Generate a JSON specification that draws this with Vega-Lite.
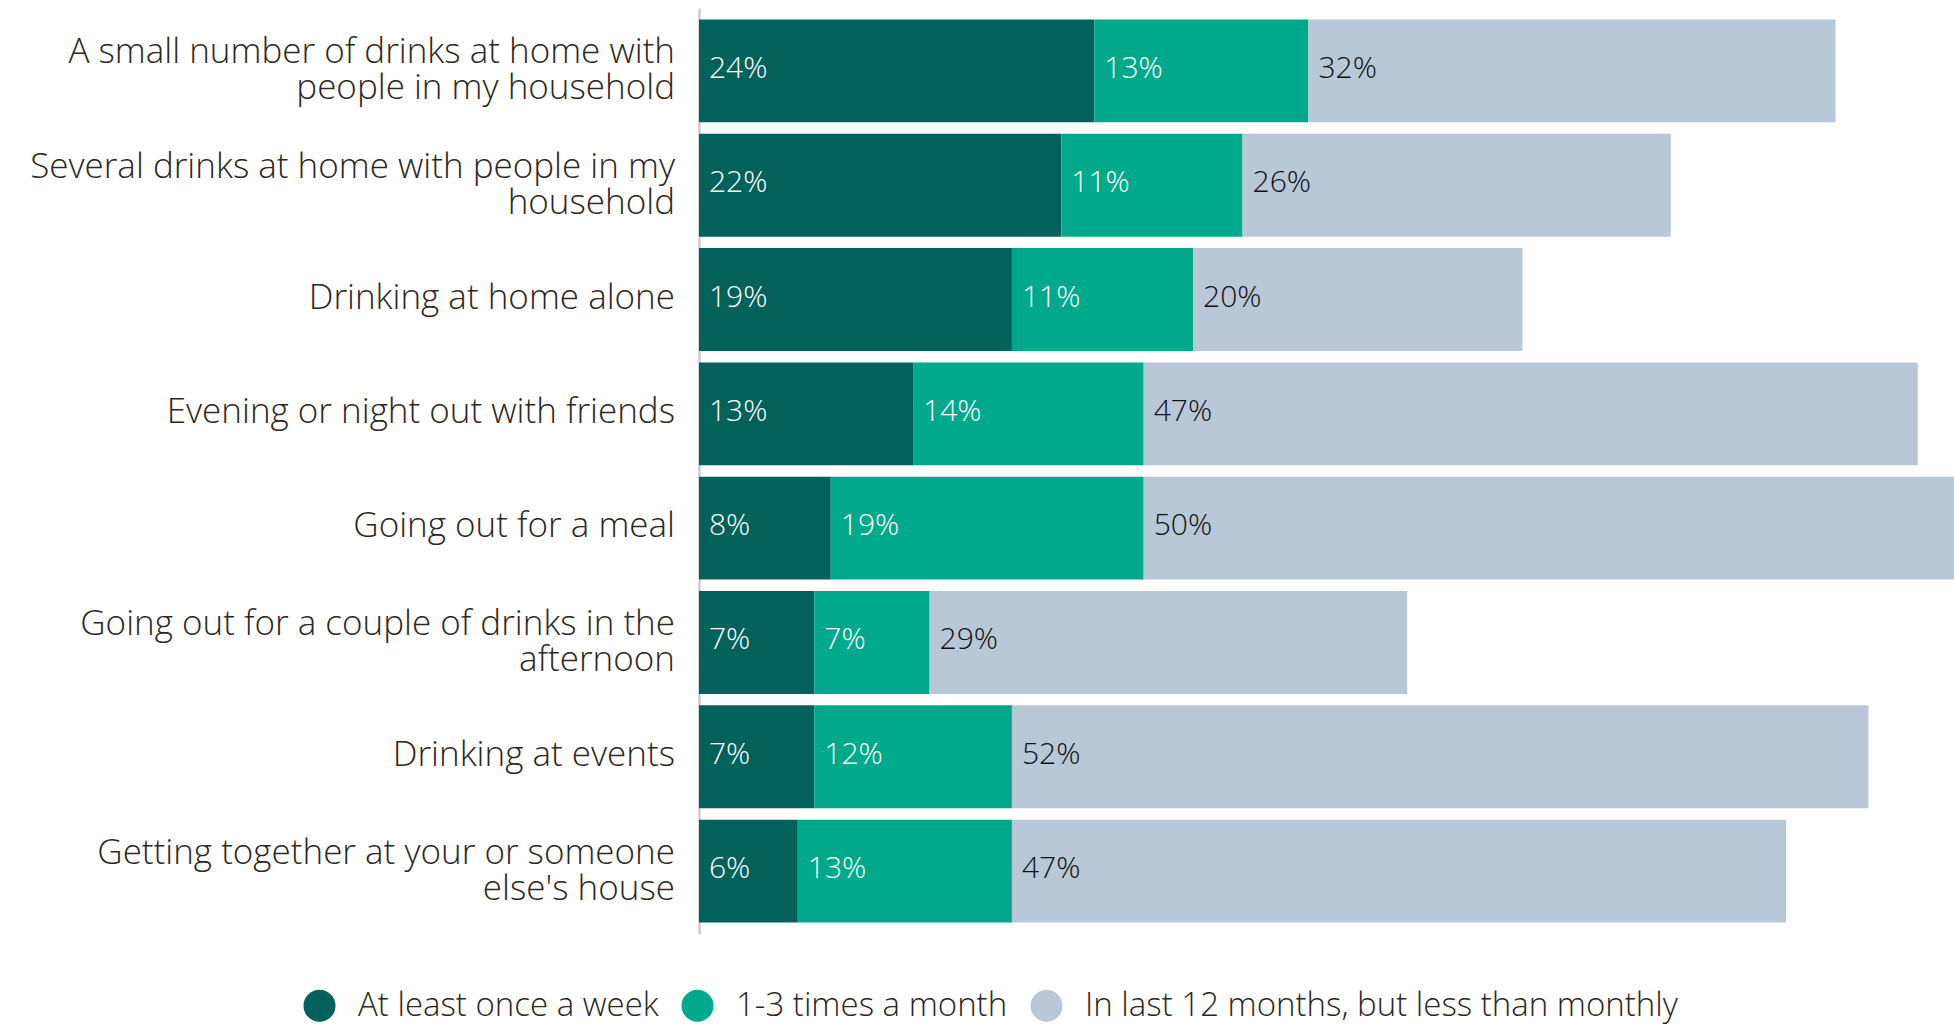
{
  "$schema": "https://vega.github.io/schema/vega-lite/v6.json",
  "autosize": {"type": "none"},
  "padding": {"left": 699, "top": 8, "right": 0, "bottom": 91},
  "width": 1255,
  "height": 926,
  "background": "white",
  "config": {
    "view": {"stroke": null},
    "font": "Open Sans"
  },
  "data": {
    "values": [
      {"activity": "A small number of drinks at home with|people in my household", "freq": "At least once a week", "order": 1, "value": 24},
      {"activity": "A small number of drinks at home with|people in my household", "freq": "1-3 times a month", "order": 2, "value": 13},
      {"activity": "A small number of drinks at home with|people in my household", "freq": "In last 12 months, but less than monthly", "order": 3, "value": 32},
      {"activity": "Several drinks at home with people in my|household", "freq": "At least once a week", "order": 1, "value": 22},
      {"activity": "Several drinks at home with people in my|household", "freq": "1-3 times a month", "order": 2, "value": 11},
      {"activity": "Several drinks at home with people in my|household", "freq": "In last 12 months, but less than monthly", "order": 3, "value": 26},
      {"activity": "Drinking at home alone", "freq": "At least once a week", "order": 1, "value": 19},
      {"activity": "Drinking at home alone", "freq": "1-3 times a month", "order": 2, "value": 11},
      {"activity": "Drinking at home alone", "freq": "In last 12 months, but less than monthly", "order": 3, "value": 20},
      {"activity": "Evening or night out with friends", "freq": "At least once a week", "order": 1, "value": 13},
      {"activity": "Evening or night out with friends", "freq": "1-3 times a month", "order": 2, "value": 14},
      {"activity": "Evening or night out with friends", "freq": "In last 12 months, but less than monthly", "order": 3, "value": 47},
      {"activity": "Going out for a meal", "freq": "At least once a week", "order": 1, "value": 8},
      {"activity": "Going out for a meal", "freq": "1-3 times a month", "order": 2, "value": 19},
      {"activity": "Going out for a meal", "freq": "In last 12 months, but less than monthly", "order": 3, "value": 50},
      {"activity": "Going out for a couple of drinks in the|afternoon", "freq": "At least once a week", "order": 1, "value": 7},
      {"activity": "Going out for a couple of drinks in the|afternoon", "freq": "1-3 times a month", "order": 2, "value": 7},
      {"activity": "Going out for a couple of drinks in the|afternoon", "freq": "In last 12 months, but less than monthly", "order": 3, "value": 29},
      {"activity": "Drinking at events", "freq": "At least once a week", "order": 1, "value": 7},
      {"activity": "Drinking at events", "freq": "1-3 times a month", "order": 2, "value": 12},
      {"activity": "Drinking at events", "freq": "In last 12 months, but less than monthly", "order": 3, "value": 52},
      {"activity": "Getting together at your or someone|else's house", "freq": "At least once a week", "order": 1, "value": 6},
      {"activity": "Getting together at your or someone|else's house", "freq": "1-3 times a month", "order": 2, "value": 13},
      {"activity": "Getting together at your or someone|else's house", "freq": "In last 12 months, but less than monthly", "order": 3, "value": 47}
    ]
  },
  "transform": [
    {"stack": "value", "groupby": ["activity"], "sort": [{"field": "order", "order": "ascending"}], "as": ["x0", "x1"]}
  ],
  "encoding": {
    "y": {
      "field": "activity",
      "type": "nominal",
      "sort": null,
      "scale": {"paddingInner": 0.1, "paddingOuter": 0.1},
      "axis": {
        "title": null,
        "ticks": false,
        "grid": false,
        "labels": false,
        "domain": true,
        "domainColor": "#cccccc",
        "domainWidth": 2.5
      }
    }
  },
  "layer": [
    {
      "mark": {"type": "bar", "clip": true},
      "encoding": {
        "x": {"field": "x0", "type": "quantitative", "scale": {"domain": [0, 76.2], "nice": false, "zero": true}, "axis": null},
        "x2": {"field": "x1"},
        "color": {
          "field": "freq",
          "type": "nominal",
          "sort": ["At least once a week", "1-3 times a month", "In last 12 months, but less than monthly"],
          "scale": {
            "domain": ["At least once a week", "1-3 times a month", "In last 12 months, but less than monthly"],
            "range": ["#02615b", "#00a98b", "#b8c8d7"]
          },
          "legend": {
            "title": null,
            "orient": "none",
            "direction": "horizontal",
            "legendX": -396,
            "legendY": 981,
            "symbolType": "circle",
            "symbolSize": 1024,
            "symbolStrokeWidth": 0,
            "labelFont": "Open Sans",
            "labelFontWeight": 300,
            "labelFontSize": 33,
            "labelColor": "#2b2724",
            "labelOffset": 22,
            "labelLimit": 1000,
            "columnPadding": 22,
            "padding": 0
          }
        }
      }
    },
    {
      "mark": {"type": "text", "align": "left", "baseline": "middle", "dx": 10, "dy": -2, "fontSize": 30, "font": "Open Sans", "fontWeight": 300, "text": {"expr": "datum.value + '%'"}},
      "encoding": {
        "x": {"field": "x0", "type": "quantitative"},
        "color": {
          "condition": {"test": "datum.order === 3", "value": "#111111"},
          "value": "#ffffff"
        }
      }
    },
    {
      "transform": [{"filter": "datum.order === 1"}],
      "mark": {
        "type": "text",
        "align": "right",
        "baseline": "middle",
        "dx": -24,
        "dy": {"expr": "indexof(datum.activity, '|') >= 0 ? -18.5 : -2"},
        "fontSize": 35,
        "font": "Open Sans",
        "fontWeight": 300,
        "lineHeight": 36,
        "color": "#2b2724",
        "text": {"expr": "split(datum.activity, '|')"}
      },
      "encoding": {
        "x": {"datum": 0, "type": "quantitative"}
      }
    }
  ]
}
